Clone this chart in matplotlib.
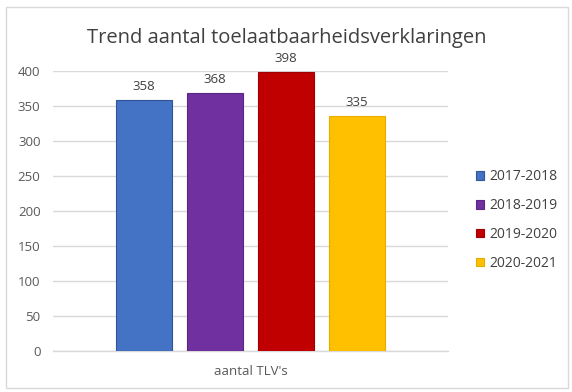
import matplotlib
matplotlib.use("Agg")
import matplotlib.pyplot as plt
from matplotlib.patches import Rectangle

series = ["2017-2018", "2018-2019", "2019-2020", "2020-2021"]
values = [358, 368, 398, 335]
colors = ["#4472C4", "#7030A0", "#C00000", "#FFC000"]
edges = ["#2F5597", "#5B2585", "#A00000", "#E6AC00"]
category = "aantal TLV's"
yticks = [0, 50, 100, 150, 200, 250, 300, 350, 400]
title = "Trend aantal toelaatbaarheidsverklaringen"

plt.rcParams['font.family'] = ['Open Sans', 'DejaVu Sans']
fig = plt.figure(figsize=(5.72, 3.92), dpi=100)
fig.patch.set_facecolor("white")
fig.patches.append(Rectangle((5.5/572, 4/392), 562/572, 381/392, transform=fig.transFigure,
                             fill=False, edgecolor="#D9D9D9", linewidth=1.0))

ax = fig.add_axes([53/572, 41/392, 395/572, 280/392])
offsets = [-0.27, -0.09, 0.09, 0.27]
width = 0.142
handles = []
for off, v, c, e, s in zip(offsets, values, colors, edges, series):
    b = ax.bar(off, v, width=width, color=c, edgecolor=e, linewidth=0.8, label=s, zorder=3)
    handles.append(b)
    ax.text(off, v + 10, str(v), ha="center", va="bottom", fontsize=9.5, color="#404040")

ax.set_xlim(-0.5, 0.5)
ax.set_ylim(0, 400)
ax.set_yticks(yticks)
ax.set_yticklabels([str(t) for t in yticks], fontsize=9.5, color="#595959")
ax.set_xticks([0])
ax.set_xticklabels([category], fontsize=9.5, color="#595959")
ax.tick_params(axis="both", length=0, pad=9)
ax.tick_params(axis="x", pad=10)
ax.grid(axis="y", color="#D9D9D9", linewidth=1.0, zorder=0)
for sp in ["top", "right", "left"]:
    ax.spines[sp].set_visible(False)
ax.spines["bottom"].set_color("#D9D9D9")
ax.spines["bottom"].set_linewidth(1.0)

fig.text(287/572, 1 - 38/392, title, ha="center", va="center", fontsize=14.5, color="#404040")

fig.legend(handles=handles, labels=series, loc="center left",
           bbox_to_anchor=(463/572, 1 - 220/392), frameon=False, fontsize=10,
           handlelength=0.6, handleheight=0.6, handletextpad=0.4, labelspacing=1.0,
           labelcolor="#404040")

fig.savefig("out.png", dpi=100, facecolor="white")
